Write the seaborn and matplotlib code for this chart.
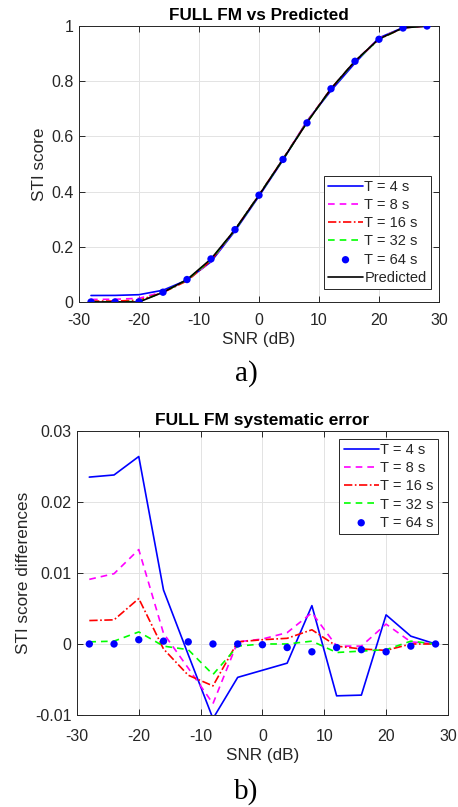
import numpy as np
import pandas as pd
import matplotlib
matplotlib.use("Agg")
import matplotlib.pyplot as plt
import seaborn as sns

# SNR grid (dB)
snr = [-28, -24, -20, -16, -12, -8, -4, 0, 4, 8, 12, 16, 20, 24, 28]

# predicted STI
predicted = [0.0, 0.0, 0.0, 0.035, 0.081, 0.156, 0.262, 0.387, 0.517, 0.650,
             0.773, 0.873, 0.953, 0.993, 1.0]

# systematic error (measured - predicted) per integration time
err_4 = [0.0235, 0.0238, 0.0264, 0.0076, -0.0015, -0.0105, -0.0047, -0.0037,
         -0.0027, 0.0054, -0.0073, -0.0072, 0.0041, 0.0011, 0.0]
err_8 = [0.0091, 0.0099, 0.0133, 0.0015, -0.0034, -0.0084, 0.0003, 0.0007,
         0.0016, 0.0044, -0.0003, -0.0003, 0.0028, 0.0003, 0.0]
err_16 = [0.0033, 0.0034, 0.0064, -0.0007, -0.0044, -0.0059, 0.0003, 0.0006,
          0.0008, 0.0020, -0.0003, -0.0007, -0.0009, 0.0, 0.0]
err_32 = [0.0003, 0.0004, 0.0017, -0.0003, -0.0008, -0.0043, -0.0003, 0.0,
          0.0, 0.0004, -0.0012, -0.0010, -0.0008, 0.0004, 0.0]
err_64 = [0.0, 0.0, 0.0006, 0.0004, 0.0003, 0.0, 0.0, -0.0001, -0.0005,
          -0.0011, -0.0005, -0.0008, -0.0011, -0.0003, 0.0]

labels = ["T = 4 s", "T = 8 s", "T = 16 s", "T = 32 s", "T = 64 s"]
errors = [err_4, err_8, err_16, err_32, err_64]
colors = ["#0000ff", "#ff00ff", "#ff0000", "#00ff00", "#0000ff"]
styles = ["-", (0, (4, 3)), (0, (5, 1.5, 1, 1.5)), (0, (4, 3)), None]

sns.set_theme(style="ticks")
plt.rcParams["font.family"] = ["Liberation Sans", "DejaVu Sans"]
txt = "#262626"
spine = "#262626"


def style_axes(ax, ylim, yticks, yticklabels, xpad):
    ax.set_xlim(-30, 30)
    ax.set_ylim(*ylim)
    ax.set_xticks([-30, -20, -10, 0, 10, 20, 30])
    ax.set_xticklabels(["-30", "-20", "-10", "0", "10", "20", "30"])
    ax.set_yticks(yticks)
    ax.set_yticklabels(yticklabels)
    ax.grid(True, color="#e3e3e3", linewidth=0.7)
    ax.set_axisbelow(True)
    for s in ax.spines.values():
        s.set_visible(True)
        s.set_color(spine)
        s.set_linewidth(0.7)
    ax.tick_params(direction="in", length=4, width=0.7, colors=spine,
                   labelsize=11.5, labelcolor=txt, top=True, right=True)
    ax.tick_params(axis="x", pad=xpad)
    ax.tick_params(axis="y", pad=4)


def add_legend(ax, loc, anchor):
    leg = ax.legend(loc=loc, bbox_to_anchor=anchor, fontsize=10.5,
                    frameon=True, fancybox=False, framealpha=1,
                    edgecolor=spine, borderaxespad=0, handlelength=2.4,
                    handletextpad=0.1, labelspacing=0.28, borderpad=0.3)
    leg.get_frame().set_linewidth(0.7)
    for t in leg.get_texts():
        t.set_color(txt)


fig = plt.figure(figsize=(4.58, 8.07), dpi=100)

# ---- a) FULL FM vs Predicted
ax1 = fig.add_axes([0.1725, 0.6258, 0.786, 0.342])
for lab, err, col, ls in zip(labels, errors, colors, styles):
    vals = np.array(predicted) + np.array(err)
    if ls is None:
        sns.scatterplot(x=snr, y=vals, color=col, s=28, marker="o",
                        edgecolor="none", label=lab, ax=ax1, zorder=3)
    else:
        sns.lineplot(x=snr, y=vals, color=col, linestyle=ls, linewidth=1.2,
                     label=lab, ax=ax1)
sns.lineplot(x=snr, y=predicted, color="black", linewidth=1.2,
             label="Predicted", ax=ax1)
style_axes(ax1, (0, 1), [0, 0.2, 0.4, 0.6, 0.8, 1],
           ["0", "0.2", "0.4", "0.6", "0.8", "1"], xpad=8)
ax1.set_title("FULL FM vs Predicted", fontsize=12.3, fontweight="bold",
              color="black", pad=4)
ax1.set_xlabel("SNR (dB)", fontsize=12.3, color=txt, labelpad=3)
ax1.set_ylabel("STI score", fontsize=12.3, color=txt, labelpad=3)
add_legend(ax1, "lower right", (0.978, 0.047))

# ---- b) FULL FM systematic error
ax2 = fig.add_axes([0.168, 0.114, 0.810, 0.352])
for lab, err, col, ls in zip(labels, errors, colors, styles):
    if ls is None:
        sns.scatterplot(x=snr, y=err, color=col, s=28, marker="o",
                        edgecolor="none", label=lab, ax=ax2, zorder=3)
    else:
        sns.lineplot(x=snr, y=err, color=col, linestyle=ls, linewidth=1.2,
                     label=lab, ax=ax2)
style_axes(ax2, (-0.01, 0.03), [-0.01, 0, 0.01, 0.02, 0.03],
           ["-0.01", "0", "0.01", "0.02", "0.03"], xpad=10)
ax2.set_title("FULL FM systematic error", fontsize=12.5, fontweight="bold",
              color="black", pad=4)
ax2.set_xlabel("SNR (dB)", fontsize=12.3, color=txt, labelpad=3)
ax2.set_ylabel("STI score differences", fontsize=12.3, color=txt, labelpad=3)
add_legend(ax2, "upper right", (0.973, 0.972))

# panel captions
fig.text(0.537, 0.537, "a)", ha="center", va="center", fontsize=21,
         family="Liberation Serif", color="black")
fig.text(0.537, 0.019, "b)", ha="center", va="center", fontsize=21,
         family="Liberation Serif", color="black")

fig.savefig("out.png", dpi=100)
